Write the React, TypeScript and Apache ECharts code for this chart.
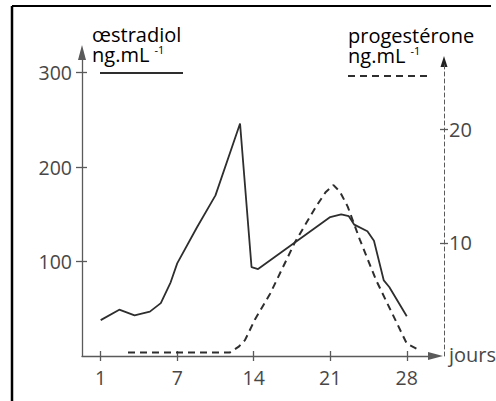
import React, { useEffect, useRef } from "react";
import * as echarts from "echarts";

// Day positions on the axis (label "1" sits at position 0)
const dayTicks = [0, 7, 14, 21, 28];
const dayTickLabels = ["1", "7", "14", "21", "28"];
const estradiolTicks = [100, 200, 300];
const progesteroneTicks = [10, 20];

const estradiolDays = [0, 1.7, 3.1, 4.5, 5.5, 6.4, 7, 8.8, 10.5, 12.75, 13.8, 14.4, 21, 22, 22.7, 23.2, 24.4, 25, 25.9, 26.4, 28];
const estradiolValues = [38, 49, 43, 47, 56, 78, 98, 136, 170, 246, 94, 92, 147, 150, 148, 139, 132, 122, 80, 73, 42];

const progesteroneDays = [2.5, 11.8, 12.6, 13.2, 14.1, 15.5, 17.8, 19.7, 20.6, 21.3, 21.9, 22.6, 23.7, 25.2, 26.8, 28, 29];
const progesteroneValues = [0.3, 0.3, 0.8, 1.4, 3.2, 5.5, 10.1, 13.2, 14.5, 15.1, 14.5, 13.2, 10.3, 6.7, 3.5, 1.1, 0.6];

const FONT = "Open Sans";
const TXT = "#474747";
const AX = "#5a5a5a";
const LINE = "#2e2e2e";

export default function App() {
  const ref = useRef<HTMLDivElement>(null);
  useEffect(() => {
    if (!ref.current) return;
    const chart = echarts.init(ref.current, null, { renderer: "svg" });
    const xMin = -1.71;
    const tickLabel = (v: number) => {
      const i = dayTicks.indexOf(Math.round(v));
      return i >= 0 ? dayTickLabels[i] : "";
    };
    const axLine = { color: AX, width: 1.3 };
    const rich = {
      t: { fontSize: 20, fontFamily: FONT, color: TXT, lineHeight: 20 },
      sup: { fontSize: 11, fontFamily: FONT, color: TXT, lineHeight: 20, verticalAlign: "top" },
    };
    const lab = { color: TXT, fontSize: 19.5, fontFamily: FONT };
    chart.setOption({
      animation: false,
      backgroundColor: "#ffffff",
      grid: [
        { left: 82, right: 60.5, top: 52.5, bottom: 45 },
        { left: 82, right: 52, top: 64, bottom: 45 },
      ],
      xAxis: [
        {
          gridIndex: 0, type: "value", position: "bottom", min: xMin, max: 30.63,
          axisLine: { show: true, onZero: false, symbol: ["none", "triangle"], symbolSize: [8, 15], lineStyle: axLine },
          axisTick: { show: true, customValues: dayTicks, length: 5, lineStyle: axLine },
          axisLabel: { customValues: dayTicks, formatter: tickLabel, margin: 11, ...lab },
          splitLine: { show: false },
        },
        {
          gridIndex: 0, type: "value", position: "bottom", min: xMin, max: 30.63,
          axisLine: { show: false, onZero: false },
          axisTick: { show: true, inside: true, customValues: dayTicks, length: 5, lineStyle: axLine },
          axisLabel: { show: false },
          splitLine: { show: false },
        },
        {
          gridIndex: 1, type: "value", position: "bottom", min: xMin, max: 31.41, show: false,
          axisLine: { onZero: false },
        },
      ],
      yAxis: [
        {
          gridIndex: 0, type: "value", position: "left", min: 0, max: 321.2,
          axisLine: { show: true, onZero: false, symbol: ["none", "triangle"], symbolSize: [8, 15], lineStyle: axLine },
          axisTick: { show: true, customValues: estradiolTicks, length: 6, lineStyle: axLine },
          axisLabel: { customValues: estradiolTicks, margin: 10, ...lab },
          splitLine: { show: false },
        },
        {
          gridIndex: 0, type: "value", position: "left", min: 0, max: 321.2,
          axisLine: { show: false, onZero: false },
          axisTick: { show: true, inside: true, customValues: estradiolTicks, length: 5, lineStyle: axLine },
          axisLabel: { show: false },
          splitLine: { show: false },
        },
        {
          gridIndex: 1, type: "value", position: "right", min: 0, max: 25.8,
          axisLine: { show: true, onZero: false, lineStyle: { color: AX, width: 1, type: [4, 3] } },
          axisTick: { show: true, customValues: progesteroneTicks, length: 4, lineStyle: axLine },
          axisLabel: { customValues: progesteroneTicks, margin: 5, ...lab, fontSize: 20 },
          splitLine: { show: false },
        },
        {
          gridIndex: 1, type: "value", position: "right", min: 0, max: 25.8,
          axisLine: { show: false, onZero: false },
          axisTick: { show: true, inside: true, customValues: progesteroneTicks, length: 4, lineStyle: axLine },
          axisLabel: { show: false },
          splitLine: { show: false },
        },
      ],
      series: [
        {
          type: "line", xAxisIndex: 0, yAxisIndex: 0, showSymbol: false, symbol: "none",
          data: estradiolDays.map((d, i) => [d, estradiolValues[i]]),
          lineStyle: { color: LINE, width: 1.8 },
          z: 5,
        },
        {
          type: "line", xAxisIndex: 2, yAxisIndex: 2, showSymbol: false, symbol: "none",
          data: progesteroneDays.map((d, i) => [d, progesteroneValues[i]]),
          lineStyle: { color: LINE, width: 2, type: [7, 5] },
          z: 4,
        },
      ],
      graphic: [
        { type: "line", shape: { x1: 12, y1: 6, x2: 491, y2: 6 }, style: { stroke: "#000", lineWidth: 2 } },
        { type: "line", shape: { x1: 12, y1: 6, x2: 12, y2: 401 }, style: { stroke: "#000", lineWidth: 2.5 } },
        { type: "polygon", shape: { points: [[444, 56], [440.5, 67], [447.5, 67]] }, style: { fill: "#222" } },
        {
          type: "text", x: 92, y: 24,
          style: { text: "{t|œstradiol}\n{t|ng.mL }{sup|-1}", rich, verticalAlign: "top" },
        },
        { type: "line", shape: { x1: 100, y1: 73, x2: 183, y2: 73 }, style: { stroke: LINE, lineWidth: 2 } },
        {
          type: "text", x: 348, y: 25,
          style: { text: "{t|progestérone}\n{t|ng.mL }{sup|-1}", rich, verticalAlign: "top" },
        },
        { type: "line", shape: { x1: 348, y1: 76, x2: 430, y2: 76 }, style: { stroke: LINE, lineWidth: 2, lineDash: [7, 5] } },
        { type: "text", x: 449, y: 354, style: { text: "jours", fill: TXT, font: `20px "${FONT}"`, verticalAlign: "middle" } },
      ],
    });
    return () => chart.dispose();
  }, []);
  return (
    <div
      ref={ref}
      style={{ position: "fixed", left: 0, top: 0, width: 496, height: 401, background: "#fff" }}
    />
  );
}
